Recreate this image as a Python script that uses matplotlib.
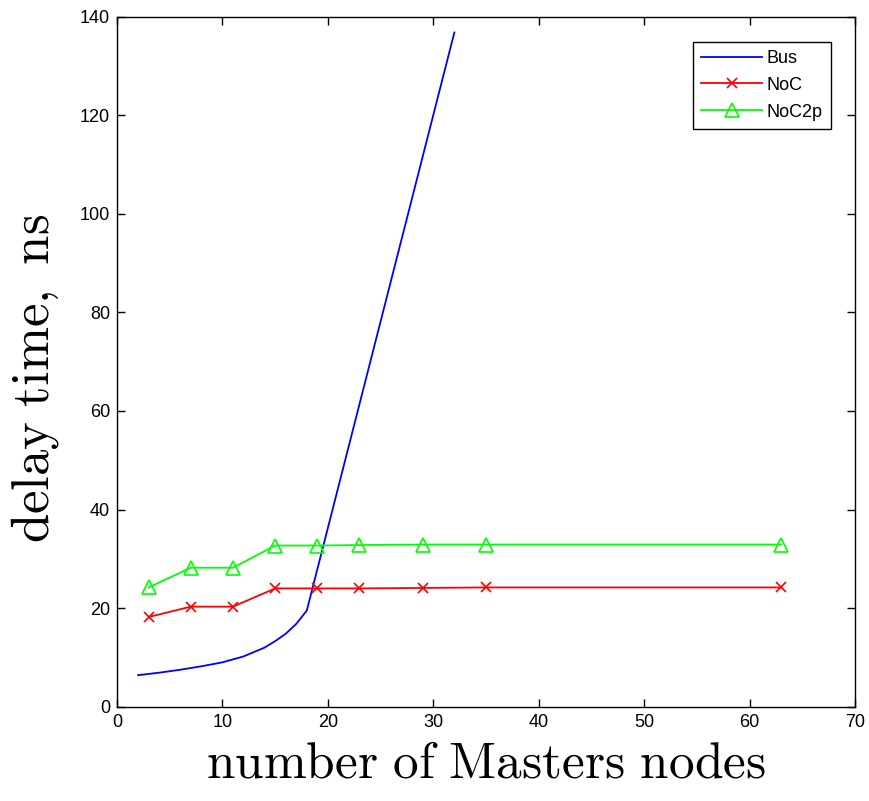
import matplotlib
matplotlib.use("Agg")
import matplotlib.pyplot as plt
from matplotlib import font_manager

# Data
bus_x = [2, 4, 6, 8, 10, 12, 14, 15, 16, 17, 18, 32]
bus_y = [6.4, 6.9, 7.5, 8.2, 9.0, 10.2, 12.0, 13.3, 14.8, 16.8, 19.5, 136.8]

noc_x = [3, 7, 11, 15, 19, 23, 29, 35, 63]
noc_y = [18.2, 20.3, 20.3, 24.0, 24.0, 24.0, 24.1, 24.2, 24.2]

noc2p_x = [3, 7, 11, 15, 19, 23, 29, 35, 63]
noc2p_y = [24.2, 28.2, 28.2, 32.7, 32.7, 32.8, 32.9, 32.9, 32.9]

x_ticks = [0, 10, 20, 30, 40, 50, 60, 70]
y_ticks = [0, 20, 40, 60, 80, 100, 120, 140]

plt.rcParams['mathtext.fontset'] = 'cm'

names = {f.name for f in font_manager.fontManager.ttflist}
tick_family = 'Liberation Sans Narrow' if 'Liberation Sans Narrow' in names else 'Liberation Sans'

fig = plt.figure(figsize=(8.69, 8.01), dpi=100)
ax = fig.add_axes([117/869, 1 - 706.7/801, (855 - 117)/869, (706.7 - 16.7)/801])

ax.plot(bus_x, bus_y, color='#0000ff', lw=1.3, label='Bus')
ax.plot(noc_x, noc_y, color='#ff0000', lw=1.3, marker='x', markersize=6.5,
        markeredgewidth=1.2, label='NoC')
ax.plot(noc2p_x, noc2p_y, color='#00ff00', lw=1.3, marker='^', markersize=10,
        markerfacecolor='none', markeredgewidth=1.2, label='NoC2p')

ax.set_xlim(0, 70)
ax.set_ylim(0, 140)
ax.set_xticks(x_ticks)
ax.set_yticks(y_ticks)
ax.tick_params(direction='in', top=True, right=True, length=6, width=1,
               labelsize=13, pad=5)
for lab in ax.get_xticklabels() + ax.get_yticklabels():
    lab.set_family(tick_family)
for s in ax.spines.values():
    s.set_linewidth(1.0)

ax.set_xlabel(r'$\mathrm{number\ of\ Masters\ nodes}$', fontsize=37, labelpad=6)
ax.set_ylabel(r'$\mathrm{delay\ time,\ ns}$', fontsize=38)
ax.yaxis.set_label_coords((61 - 117) / 738, (706.7 - 378) / 690)

leg = ax.legend(loc='upper right', bbox_to_anchor=(1 - 15/738, 1 - 16/690),
                frameon=True, fancybox=False, framealpha=1,
                edgecolor='black', handlelength=3.4, borderpad=0.45,
                labelspacing=0.55, handletextpad=0.25,
                prop={'family': tick_family, 'size': 13})
leg.get_frame().set_linewidth(1.0)

fig.savefig('out.png', dpi=100)
